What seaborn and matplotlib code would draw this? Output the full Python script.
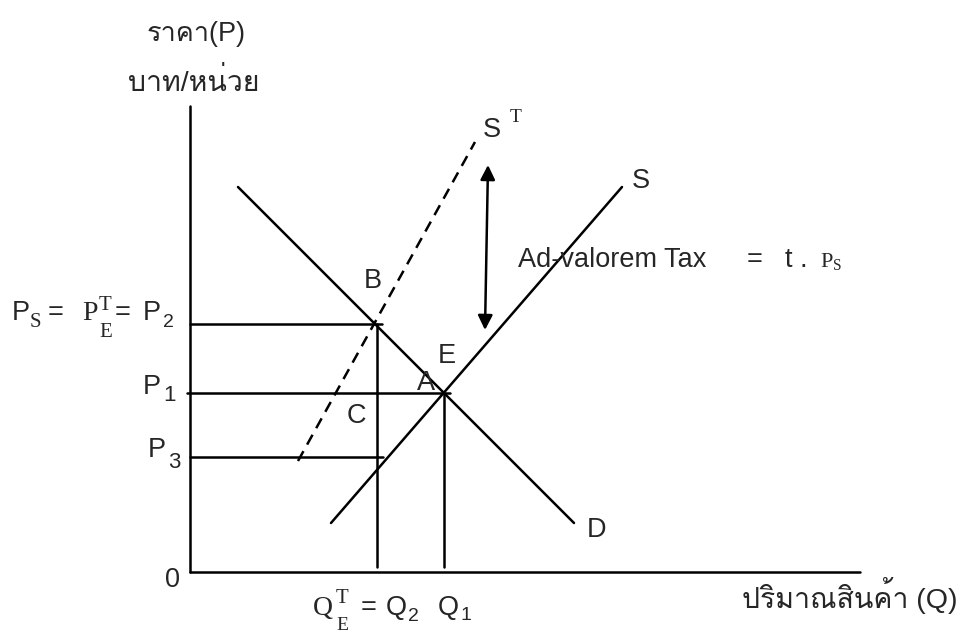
import matplotlib
matplotlib.use("Agg")
import matplotlib.pyplot as plt
import matplotlib.font_manager as fm
from matplotlib import ft2font
import seaborn as sns

# --- diagram values (Q, P units; 1 unit = 10 px) ---
d_q = [4.8, 38.4]
d_p = [38.5, 4.9]
s_q = [14.1, 43.2]
s_p = [4.9, 38.5]
st_q = [10.8, 28.5]
st_p = [11.1, 43.0]

p1, p2, p3 = 17.9, 24.8, 11.5
q1, q2 = 25.4, 18.7

axis_q_max = 67.0
axis_p_max = 46.6

tax_arrow_q = [29.5, 29.8]
tax_arrow_p = [24.2, 40.7]

SANS = 'Liberation Sans'
SERIF = 'Liberation Serif'


def find_thai_font():
    """Thai font search"""
    for f in fm.fontManager.ttflist:
        try:
            if 0x0E23 in ft2font.FT2Font(f.fname).get_charmap():
                return f.name
        except Exception:
            continue
    return "DejaVu Sans"


def configure_plotting():
    sns.set_style("white")
    thai = find_thai_font()
    plt.rcParams['font.family'] = [SANS, thai, 'DejaVu Sans']
    plt.rcParams['mathtext.fontset'] = 'custom'
    plt.rcParams['mathtext.rm'] = SERIF
    plt.rcParams['mathtext.it'] = SERIF + ':italic'
    plt.rcParams['mathtext.sf'] = SANS
    return thai


def seg(ax, q, p, **kw):
    sns.lineplot(x=q, y=p, ax=ax, color='black', lw=1.8, estimator=None,
                 sort=False, legend=False, **kw)


def label(ax, q, p, s, size=19.5, serif=False, **kw):
    fam = SERIF if serif else plt.rcParams['font.family']
    ax.text(q, p, s, fontsize=size, family=fam, va='baseline', ha='left', **kw)


def main():
    configure_plotting()
    fig = plt.figure(figsize=(9.67, 6.34), dpi=100)
    ax = fig.add_axes([0, 0, 1, 1])
    ax.set_xlim(-19.0, 77.7)
    ax.set_ylim(-6.2, 57.2)
    ax.axis('off')

    # axes of the diagram
    seg(ax, [0, 0], [0, axis_p_max])
    seg(ax, [0, axis_q_max], [0, 0])

    # curves
    seg(ax, d_q, d_p)
    seg(ax, s_q, s_p)
    seg(ax, st_q, st_p, linestyle=(0, (4.5, 3)))

    # guide lines
    seg(ax, [0, q2 + 0.5], [p2, p2])
    seg(ax, [-0.3, q1 + 0.6], [p1, p1])
    seg(ax, [0, q2 + 0.6], [p3, p3])
    seg(ax, [q2, q2], [0.5, p2])
    seg(ax, [q1, q1], [0.5, p1])

    ax.annotate('', xy=(tax_arrow_q[1], tax_arrow_p[1]),
                xytext=(tax_arrow_q[0], tax_arrow_p[0]),
                arrowprops=dict(arrowstyle='<|-|>', color='black', lw=1.8,
                                mutation_scale=22, shrinkA=0, shrinkB=0))

    # Thai titles
    label(ax, -4.3, 53.1, "ราคา(P)")
    label(ax, -6.2, 48.1, "บาท/หน่วย", size=20.5)
    label(ax, 55.2, -3.6, "ปริมาณสินค้า (Q)", size=20.5)

    # curve names
    label(ax, 29.3, 43.5, "S")
    label(ax, 32.0, 45.0, "T", size=14, serif=True)
    label(ax, 44.2, 38.4, "S")
    label(ax, 32.8, 30.5, "Ad-valorem Tax")
    label(ax, 55.7, 30.5, "=")
    label(ax, 59.5, 30.5, "t .")
    label(ax, 63.0, 30.5, r"$\mathrm{P}_{\mathrm{S}}$", size=16)

    # points
    ax.text(18.3, 28.4, "B", ha='center', va='baseline', fontsize=19.5)
    label(ax, 24.8, 20.9, "E")
    label(ax, 22.7, 18.2, "A")
    label(ax, 15.7, 14.9, "C")
    label(ax, 39.7, 3.5, "D")
    label(ax, -2.5, -1.5, "0")

    # price labels
    label(ax, -17.8, 25.2, "P")
    label(ax, -16.0, 24.5, "S", size=15, serif=True)
    label(ax, -14.2, 25.2, "=")
    label(ax, -10.8, 25.2, "P", size=20, serif=True)
    label(ax, -9.1, 26.2, "T", size=15, serif=True)
    label(ax, -9.1, 23.5, "E", size=15, serif=True)
    label(ax, -7.5, 25.2, "=")
    label(ax, -4.7, 25.2, "P")
    label(ax, -2.7, 24.5, "2", size=14)

    label(ax, -4.7, 17.8, "P")
    label(ax, -2.7, 17.1, "1", size=16)
    label(ax, -4.2, 11.5, "P")
    label(ax, -2.2, 10.4, "3", size=16)

    # quantity labels
    label(ax, 12.3, -4.3, "Q", size=20, serif=True)
    label(ax, 14.6, -3.1, "T", size=15, serif=True)
    label(ax, 14.6, -5.8, "E", size=14, serif=True)
    label(ax, 17.1, -4.3, "=")
    label(ax, 19.6, -4.3, "Q")
    label(ax, 21.8, -4.9, "2", size=14)
    label(ax, 24.8, -4.3, "Q")
    label(ax, 27.0, -4.8, "1", size=14)

    fig.savefig("out.png", dpi=100, facecolor='white')
    plt.close(fig)


if __name__ == "__main__":
    main()
